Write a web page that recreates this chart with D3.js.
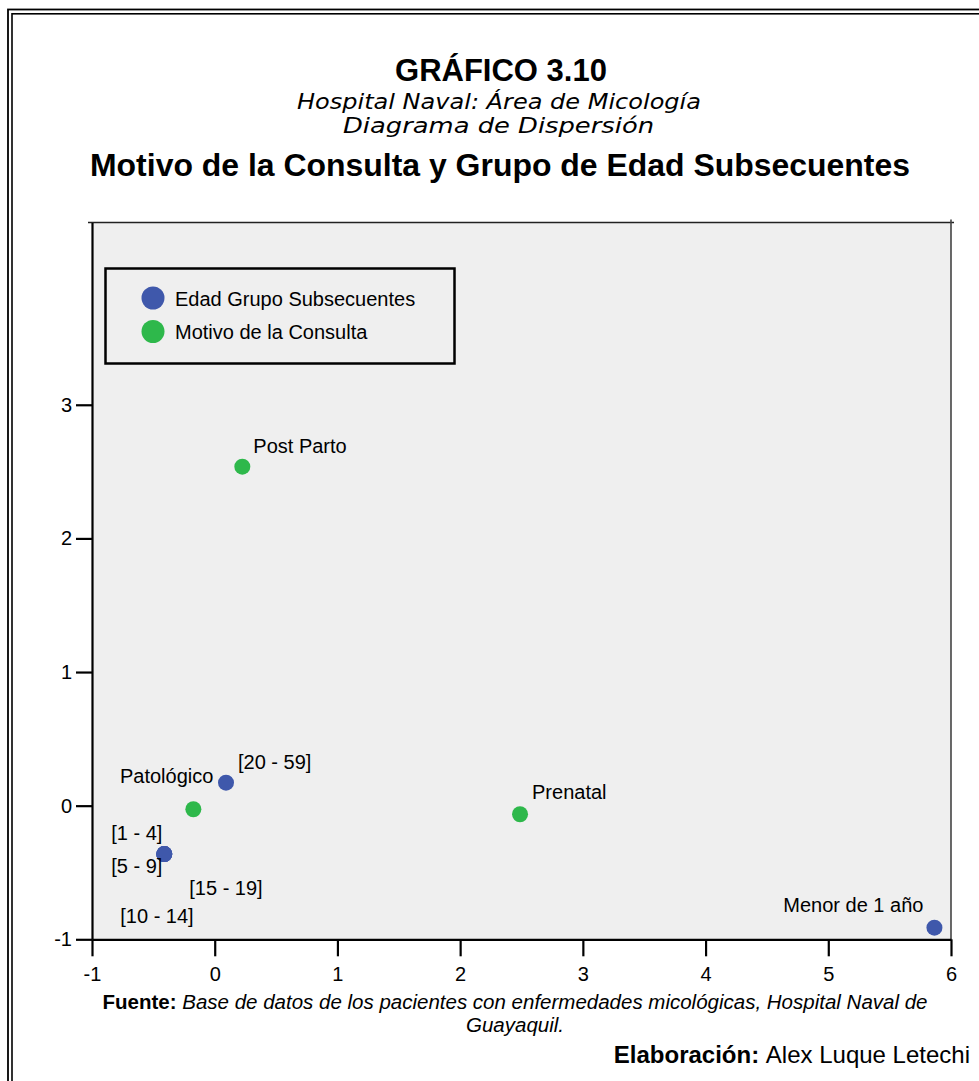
<!DOCTYPE html>
<html>
<head>
<meta charset="utf-8">
<script src="https://cdn.jsdelivr.net/npm/d3@7"></script>
<style>
  html, body { margin: 0; padding: 0; background: #fff; }
  svg { display: block; }
  text { font-family: "Liberation Sans", Arial, sans-serif; fill: #000; }
</style>
</head>
<body>
<svg id="chart" width="979" height="1081"></svg>
<script>
// ---- Data ----
const seriesNames = ["Edad Grupo Subsecuentes", "Motivo de la Consulta"];
const seriesColors = ["#3f58ab", "#2eb84b"];

const ageLabels = ["[20 - 59]", "[1 - 4]", "[5 - 9]", "[15 - 19]", "[10 - 14]", "Menor de 1 año"];
const ageX = [0.092, -0.411, -0.411, -0.411, -0.411, 5.865];
const ageY = [0.172, -0.362, -0.362, -0.362, -0.362, -0.913];

const motivoLabels = ["Post Parto", "Patológico", "Prenatal"];
const motivoX = [0.225, -0.174, 2.488];
const motivoY = [2.537, -0.027, -0.064];

const xTicks = [-1, 0, 1, 2, 3, 4, 5, 6];
const yTicks = [-1, 0, 1, 2, 3];
const xDomain = [-1, 6];
const yDomain = [-1, 4.364];

// label placement (pixel offsets from the point: dx, dy, anchor)
const ageLabelOffsets = [[12, -14, "start"], [-53, -14, "start"], [-53, 19, "start"], [25, 41, "start"], [-44, 69, "start"], [-11, -16, "end"]];
const motivoLabelOffsets = [[11, -14, "start"], [20, -26, "end"], [12, -15, "start"]];

// ---- Layout ----
const svg = d3.select("#chart");
const plot = { left: 92, right: 951, top: 222.5, bottom: 939.3 };

// double frame
svg.append("rect").attr("x", 8).attr("y", 9.5).attr("width", 1000).attr("height", 1100)
  .attr("fill", "none").attr("stroke", "#000").attr("stroke-width", 1.8);
svg.append("rect").attr("x", 12).attr("y", 13.8).attr("width", 1000).attr("height", 1100)
  .attr("fill", "none").attr("stroke", "#000").attr("stroke-width", 1.6);

// titles
svg.append("text").attr("x", 501).attr("y", 81).attr("text-anchor", "middle")
  .style("font-size", "31px").style("font-weight", "bold").text("GRÁFICO 3.10");
svg.append("text").attr("x", 499).attr("y", 109).attr("text-anchor", "middle")
  .attr("textLength", 404).attr("lengthAdjust", "spacingAndGlyphs")
  .style("font-family", "'DejaVu Sans', Verdana, sans-serif").style("font-style", "italic")
  .style("font-size", "21px").text("Hospital Naval: Área de Micología");
svg.append("text").attr("x", 498.5).attr("y", 133).attr("text-anchor", "middle")
  .attr("textLength", 311).attr("lengthAdjust", "spacingAndGlyphs")
  .style("font-family", "'DejaVu Sans', Verdana, sans-serif").style("font-style", "italic")
  .style("font-size", "21px").text("Diagrama de Dispersión");
svg.append("text").attr("x", 500).attr("y", 176).attr("text-anchor", "middle")
  .attr("textLength", 820).attr("lengthAdjust", "spacingAndGlyphs")
  .style("font-size", "31px").style("font-weight", "bold")
  .text("Motivo de la Consulta y Grupo de Edad Subsecuentes");

// scales
const x = d3.scaleLinear().domain(xDomain).range([plot.left, plot.right]);
const y = d3.scaleLinear().domain(yDomain).range([plot.bottom, plot.top]);

// plot background
svg.append("rect").attr("x", plot.left).attr("y", plot.top)
  .attr("width", plot.right - plot.left).attr("height", plot.bottom - plot.top)
  .attr("fill", "#efefef");

// top and right frame lines
svg.append("line").attr("x1", plot.left - 4).attr("x2", plot.right + 3)
  .attr("y1", plot.top).attr("y2", plot.top).attr("stroke", "#222").attr("stroke-width", 1.6);
svg.append("line").attr("x1", plot.right).attr("x2", plot.right)
  .attr("y1", plot.top - 3).attr("y2", plot.bottom).attr("stroke", "#444").attr("stroke-width", 1.6);

// axes
const fmt = d => String(d);
const yAxis = d3.axisLeft(y).tickValues(yTicks).tickFormat(fmt)
  .tickSize(16).tickSizeOuter(0).tickPadding(4);
const gy = svg.append("g").attr("transform", `translate(${plot.left},0)`).call(yAxis);
const xAxis = d3.axisBottom(x).tickValues(xTicks).tickFormat(fmt)
  .tickSize(17).tickSizeOuter(0).tickPadding(6);
const gx = svg.append("g").attr("transform", `translate(0,${plot.bottom})`).call(xAxis);
[gx, gy].forEach(g => {
  g.select(".domain").attr("stroke", "#000").attr("stroke-width", 2.2);
  g.selectAll(".tick line").attr("stroke", "#000").attr("stroke-width", 2.2);
  g.selectAll(".tick text").style("font-family", "'Liberation Sans', Arial, sans-serif")
    .style("font-size", "20px").attr("fill", "#000");
});
gx.selectAll(".tick text").attr("dy", "0.92em");

// legend
const lg = svg.append("g");
lg.append("rect").attr("x", 105.5).attr("y", 268.5).attr("width", 349).attr("height", 95)
  .attr("fill", "none").attr("stroke", "#000").attr("stroke-width", 2.5);
seriesNames.forEach((name, i) => {
  lg.append("circle").attr("cx", 153).attr("cy", 298 + i * 33.5).attr("r", 11.5)
    .attr("fill", seriesColors[i]);
  lg.append("text").attr("x", 175).attr("y", 305.5 + i * 33.5)
    .style("font-size", "20px").text(name);
});

// points + labels
function drawSeries(xs, ys, labels, offsets, color) {
  const data = xs.map((v, i) => ({ x: v, y: ys[i], label: labels[i], off: offsets[i] }));
  const g = svg.append("g");
  g.selectAll("circle").data(data).join("circle")
    .attr("cx", d => x(d.x)).attr("cy", d => y(d.y)).attr("r", 8)
    .attr("fill", color);
  g.selectAll("text").data(data).join("text")
    .attr("x", d => x(d.x) + d.off[0]).attr("y", d => y(d.y) + d.off[1])
    .attr("text-anchor", d => d.off[2])
    .style("font-size", "20px").text(d => d.label);
}
drawSeries(ageX, ageY, ageLabels, ageLabelOffsets, seriesColors[0]);
drawSeries(motivoX, motivoY, motivoLabels, motivoLabelOffsets, seriesColors[1]);

// footer
const f1 = svg.append("text").attr("x", 515).attr("y", 1009).attr("text-anchor", "middle")
  .style("font-size", "20.5px");
f1.append("tspan").style("font-weight", "bold").text("Fuente: ");
f1.append("tspan").style("font-style", "italic")
  .text("Base de datos de los pacientes con enfermedades micológicas, Hospital Naval de");
svg.append("text").attr("x", 515).attr("y", 1032).attr("text-anchor", "middle")
  .style("font-size", "20.5px").style("font-style", "italic").text("Guayaquil.");
const f2 = svg.append("text").attr("x", 970).attr("y", 1063).attr("text-anchor", "end")
  .style("font-size", "24px");
f2.append("tspan").style("font-weight", "bold").text("Elaboración: ");
f2.append("tspan").text("Alex Luque Letechi");
</script>
</body>
</html>
